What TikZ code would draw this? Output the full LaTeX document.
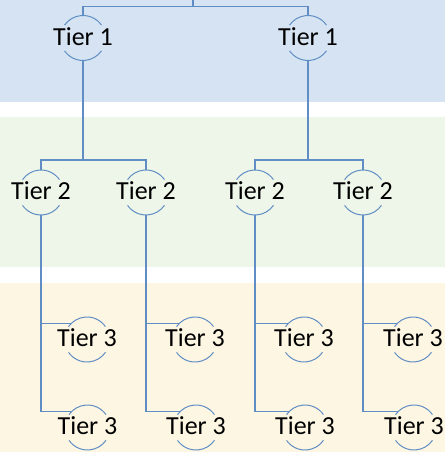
\documentclass[tikz,border=0pt]{standalone}
\usepackage{fontspec}
\setmainfont{Carlito}
\definecolor{bandblue}{RGB}{213,227,242}
\definecolor{bandgreen}{RGB}{238,246,233}
\definecolor{bandyellow}{RGB}{253,246,227}
\definecolor{linkblue}{RGB}{96,142,196}
\tikzset{
  tiercirc/.style={circle,minimum size=45pt,inner sep=0pt,outer sep=0pt},
  tiertext/.style={inner sep=0pt,font=\fontsize{26}{30}\selectfont,text=black,yshift=1.5pt},
  link/.style={draw=linkblue,line width=1.3pt},
  arcline/.style={draw=linkblue,line width=1pt}
}
\begin{document}
\begin{tikzpicture}[x=1pt,y=1pt]
\useasboundingbox (0,0) rectangle (445,452);
% bands
\fill[bandblue] (0,350) rectangle (445,452);
\fill[bandgreen] (0,185) rectangle (445,335);
\fill[bandyellow] (0,0) rectangle (445,169);
% circles
\node[tiercirc] (t1a) at (83,414) {};
\node[tiercirc] (t1b) at (308,414) {};
\node[tiercirc] (t2a) at (41,259.5) {};
\node[tiercirc] (t2b) at (146,259.5) {};
\node[tiercirc] (t2c) at (255,259.5) {};
\node[tiercirc] (t2d) at (363,259.5) {};
\node[tiercirc] (t3a) at (87,112.5) {};
\node[tiercirc] (t3b) at (195,112.5) {};
\node[tiercirc] (t3c) at (304,112.5) {};
\node[tiercirc] (t3d) at (413,112.5) {};
\node[tiercirc] (t3e) at (87.5,24.5) {};
\node[tiercirc] (t3f) at (196,24.5) {};
\node[tiercirc] (t3g) at (305,24.5) {};
\node[tiercirc] (t3h) at (414,24.5) {};
% arcs
\foreach \n in {t1a,t1b,t2a,t2b,t2c,t2d,t3a,t3b,t3c,t3d,t3e,t3f,t3g,t3h}{
  \draw[arcline] (\n.35) arc[start angle=35,end angle=145,radius=22.5pt];
  \draw[arcline] (\n.215) arc[start angle=215,end angle=325,radius=22.5pt];
}
% texts
\node[tiertext] (l1a) at (t1a) {Tier 1};
\node[tiertext] (l1b) at (t1b) {Tier 1};
\node[tiertext] (l2a) at (t2a) {Tier 2};
\node[tiertext] (l2b) at (t2b) {Tier 2};
\node[tiertext] (l2c) at (t2c) {Tier 2};
\node[tiertext] (l2d) at (t2d) {Tier 2};
\node[tiertext] (l3a) at (t3a) {Tier 3};
\node[tiertext] (l3b) at (t3b) {Tier 3};
\node[tiertext] (l3c) at (t3c) {Tier 3};
\node[tiertext] (l3d) at (t3d) {Tier 3};
\node[tiertext] (l3e) at (t3e) {Tier 3};
\node[tiertext] (l3f) at (t3f) {Tier 3};
\node[tiertext] (l3g) at (t3g) {Tier 3};
\node[tiertext] (l3h) at (t3h) {Tier 3};
% connectors
\coordinate (top) at (193,452);
\coordinate (j0) at (193,445.3);
\coordinate (j1) at (0,292);
\draw[link] (top) -- (j0) -| (t1a.north);
\draw[link] (j0) -| (t1b.north);
\draw[link] (t1a.south) -- (t1a.south |- j1);
\draw[link] (t1b.south) -- (t1b.south |- j1);
\draw[link] (t2a.north) |- (t1a.south |- j1) -| (t2b.north);
\draw[link] (t2c.north) |- (t1b.south |- j1) -| (t2d.north);
\draw[link] (t2a.south) |- (t3e.135);
\draw[link] (t2b.south) |- (t3f.135);
\draw[link] (t2c.south) |- (t3g.135);
\draw[link] (t2d.south) |- (t3h.135);
\draw[link] (t3a.135) -- (t3a.135 -| t2a.south);
\draw[link] (t3b.135) -- (t3b.135 -| t2b.south);
\draw[link] (t3c.135) -- (t3c.135 -| t2c.south);
\draw[link] (t3d.135) -- (t3d.135 -| t2d.south);
\end{tikzpicture}
\end{document}
